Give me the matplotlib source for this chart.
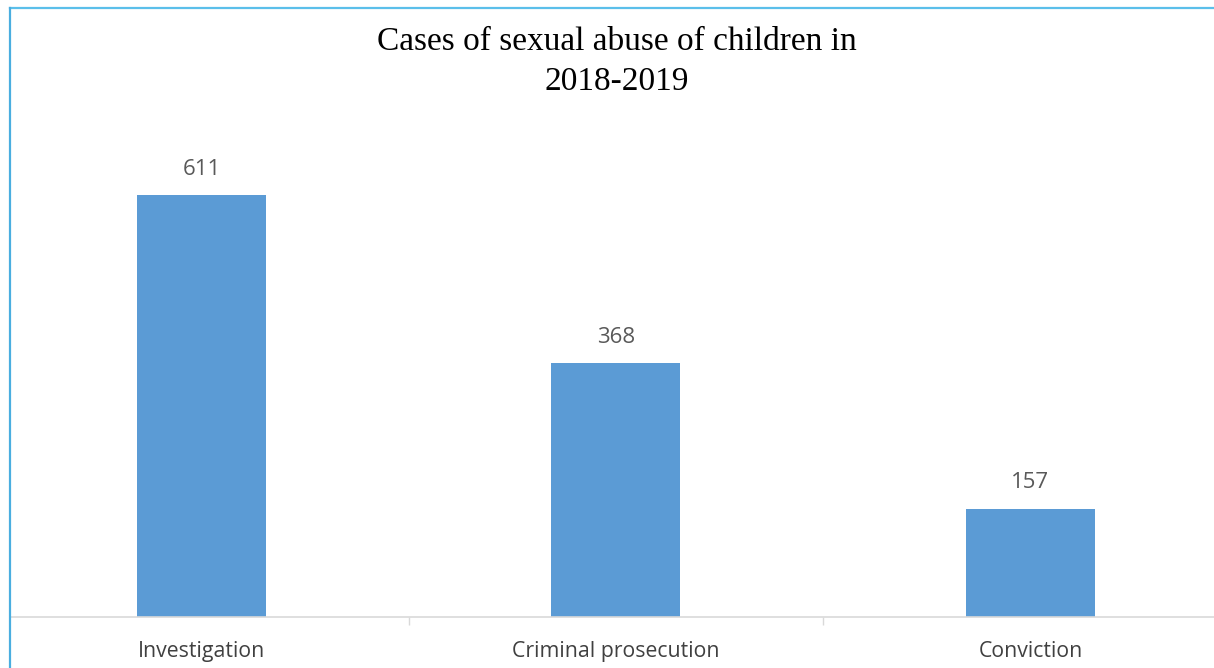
import matplotlib
matplotlib.use("Agg")
import matplotlib.pyplot as plt
from matplotlib.lines import Line2D

categories = ["Investigation", "Criminal prosecution", "Conviction"]
cases = [611, 368, 157]

W, H = 1214, 668
fig = plt.figure(figsize=(W / 100, H / 100), dpi=100)

# plot area: baseline at y=617px, left edge at x=10px, runs off the right edge
ax = fig.add_axes([10 / W, (H - 617) / H, (W - 10) / W, 483.5 / H])
x = list(range(len(categories)))
ax.bar(x, cases, width=0.311, color="#5b9bd5", zorder=2)
ax.set_xlim(-0.462, 2.443)
ax.set_ylim(0, 700)

for xi, v in zip(x, cases):
    ax.annotate(str(v), (xi, v), xytext=(0, 11), textcoords="offset points",
                ha="center", va="bottom", fontsize=16, color="#595959",
                family="Open Sans")

ax.set_xticks(x)
ax.set_xticklabels(categories, fontsize=15.3, color="#404040", family="Open Sans")
ax.tick_params(axis="x", which="major", length=0, pad=17)
ax.set_xticks([0.5, 1.5], minor=True)
ax.tick_params(axis="x", which="minor", length=6, width=1, color="#d9d9d9")
ax.set_yticks([])
for s in ["top", "right", "left"]:
    ax.spines[s].set_visible(False)
ax.spines["bottom"].set_color("#d9d9d9")
ax.spines["bottom"].set_linewidth(1.2)

fig.text(616.5 / W, 1 - 42 / H, "Cases of sexual abuse of children in",
         ha="center", va="center", fontsize=24, family="Liberation Serif")
fig.text(616.5 / W, 1 - 82 / H, "2018-2019",
         ha="center", va="center", fontsize=24, family="Liberation Serif")

# selection border (top and left)
fig.add_artist(Line2D([10 / W, 1], [1 - 8 / H, 1 - 8 / H], color="#5bbfea", lw=1.6))
fig.add_artist(Line2D([10 / W, 10 / W], [0, 1 - 8 / H], color="#4aaee0", lw=1.6))

fig.savefig("out.png", dpi=100)
